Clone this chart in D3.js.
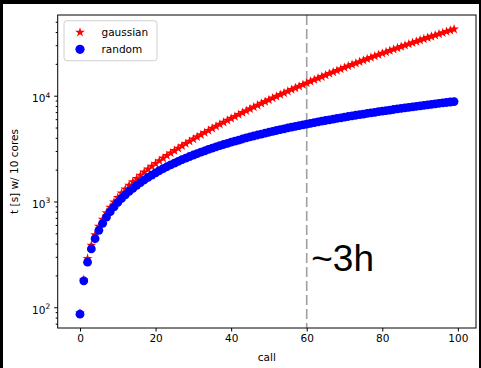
<!DOCTYPE html>
<html>
<head>
<meta charset="utf-8">
<script src="https://cdn.jsdelivr.net/npm/d3@7"></script>
<style>
body { margin: 0; background: #000; }
svg { display: block; }
text { font-family: "DejaVu Sans", sans-serif; }
</style>
</head>
<body>
<svg id="chart" width="481" height="368"></svg>
<script>
// values (call index = position in the array)
const gaussian = [88, 182, 289, 385, 483, 581, 679, 780, 881, 985,
    1090, 1198, 1306, 1418, 1533, 1650, 1770, 1894, 2020, 2151,
    2286, 2424, 2567, 2714, 2867, 3023, 3185, 3352, 3525, 3703,
    3887, 4078, 4274, 4477, 4688, 4904, 5128, 5360, 5598, 5844,
    6099, 6361, 6633, 6912, 7200, 7497, 7803, 8119, 8444, 8779,
    9124, 9479, 9845, 10221, 10608, 11006, 11415, 11835, 12267, 12711,
    13167, 13636, 14116, 14609, 15115, 15634, 16166, 16712, 17271, 17845,
    18433, 19034, 19650, 20280, 20926, 21586, 22263, 22954, 23661, 24384,
    25122, 25879, 26650, 27438, 28244, 29067, 29906, 30765, 31639, 32532,
    33443, 34373, 35322, 36288, 37274, 38279, 39303, 40347, 41411, 42494];
const random = [86, 178, 267, 356, 445, 534, 622, 711, 800, 889,
    978, 1067, 1155, 1244, 1333, 1421, 1510, 1599, 1687, 1776,
    1865, 1953, 2042, 2130, 2219, 2307, 2396, 2484, 2573, 2661,
    2749, 2838, 2926, 3014, 3103, 3191, 3279, 3368, 3456, 3544,
    3632, 3720, 3809, 3897, 3985, 4073, 4161, 4249, 4337, 4425,
    4513, 4601, 4689, 4777, 4865, 4953, 5041, 5128, 5216, 5304,
    5392, 5480, 5567, 5655, 5743, 5830, 5918, 6006, 6093, 6181,
    6269, 6356, 6444, 6531, 6619, 6706, 6794, 6881, 6969, 7056,
    7143, 7231, 7318, 7405, 7493, 7580, 7667, 7755, 7842, 7929,
    8016, 8103, 8191, 8278, 8365, 8452, 8539, 8626, 8713, 8800];
const xTicks = [0, 20, 40, 60, 80, 100];
const yTicks = [100, 1000, 10000];
const markerCall = 60;
const markerNote = "~3h";

const svg = d3.select("#chart");
const mLeft = 57.7, mRight = 476, mTop = 15, mBottom = 328;

svg.append("rect").attr("x", 3).attr("y", 4).attr("width", 476).attr("height", 364).attr("fill", "#fff");

const x = d3.scaleLinear().domain([-5.9, 104.8]).range([mLeft, mRight]);
const y = d3.scaleLog().domain([63.7, 57900]).range([mBottom, mTop]);

// minor log ticks
var minor = [];
for (let d = 10; d <= 10000; d *= 10) {
    for (let m = 2; m <= 9; m++) {
        const v = d * m;
        if (v > y.domain()[0] && v < y.domain()[1]) minor.push(v);
    }
}

svg.append("g")
    .attr("transform", "translate(" + mLeft + ",0)")
    .call(d3.axisLeft(y).tickValues(minor).tickSize(2).tickFormat(""))
    .call(g => g.select(".domain").remove());

const yAxis = svg.append("g")
    .attr("transform", "translate(" + mLeft + ",0)")
    .call(d3.axisLeft(y).tickValues(yTicks).tickSize(3.5).tickPadding(4).tickFormat(""));
yAxis.select(".domain").remove();
yAxis.selectAll(".tick text").each(function(d) {
    const t = d3.select(this).attr("dy", "0.57em").attr("font-size", 10.5).attr("fill", "#000");
    t.append("tspan").text("10");
    t.append("tspan").attr("font-size", 7.5).attr("dy", "-0.62em").text(Math.round(Math.log10(d)));
});

const xAxis = svg.append("g")
    .attr("transform", "translate(0," + mBottom + ")")
    .call(d3.axisBottom(x).tickValues(xTicks).tickSize(3.5).tickPadding(3.5));
xAxis.select(".domain").remove();
xAxis.selectAll(".tick text").attr("font-size", 10.5).attr("fill", "#000");

// dashed marker line
svg.append("line")
    .attr("x1", x(markerCall)).attr("x2", x(markerCall))
    .attr("y1", mTop).attr("y2", mBottom)
    .attr("stroke", "#a0a0a0").attr("stroke-width", 1.6)
    .attr("stroke-dasharray", "10,4");

const star = d3.symbol().type(d3.symbolStar).size(30);

svg.append("g").selectAll("path")
    .data(gaussian)
    .enter().append("path")
    .attr("transform", (d, i) => "translate(" + x(i) + "," + y(d) + ")")
    .attr("d", star)
    .attr("fill", "#ff0000");

svg.append("g").selectAll("circle")
    .data(random)
    .enter().append("circle")
    .attr("cx", (d, i) => x(i))
    .attr("cy", d => y(d))
    .attr("r", 4.4)
    .attr("fill", "#0000ff");

svg.append("text")
    .attr("x", x(markerCall) + 4.5).attr("y", 271)
    .style("font-family", "'Liberation Sans', Arial, sans-serif")
    .attr("font-size", 37)
    .text(markerNote);

// frame
svg.append("rect")
    .attr("x", mLeft).attr("y", mTop)
    .attr("width", mRight - mLeft).attr("height", mBottom - mTop)
    .attr("fill", "none").attr("stroke", "#000").attr("stroke-width", 1);

// legend
const legend = svg.append("g");
legend.append("rect")
    .attr("x", 64).attr("y", 20.7).attr("width", 93).attr("height", 40).attr("rx", 3)
    .attr("fill", "#fff").attr("fill-opacity", 0.8)
    .attr("stroke", "#d0d0d0").attr("stroke-width", 1);
legend.append("path")
    .attr("transform", "translate(80,32.3)")
    .attr("d", star)
    .attr("fill", "#ff0000");
legend.append("circle").attr("cx", 80).attr("cy", 49.3).attr("r", 4.6).attr("fill", "#0000ff");
legend.append("text").attr("x", 101.5).attr("y", 36).attr("font-size", 10.5).text("gaussian");
legend.append("text").attr("x", 101.5).attr("y", 53).attr("font-size", 10.5).text("random");

svg.append("text")
    .attr("x", (mLeft + mRight) / 2).attr("y", 360.5)
    .attr("text-anchor", "middle").attr("font-size", 10.5)
    .text("call");

svg.append("text")
    .attr("transform", "translate(18," + (mTop + mBottom) / 2 + ") rotate(-90)")
    .attr("text-anchor", "middle").attr("font-size", 10.5)
    .text("t [s] w/ 10 cores");
</script>
</body>
</html>
